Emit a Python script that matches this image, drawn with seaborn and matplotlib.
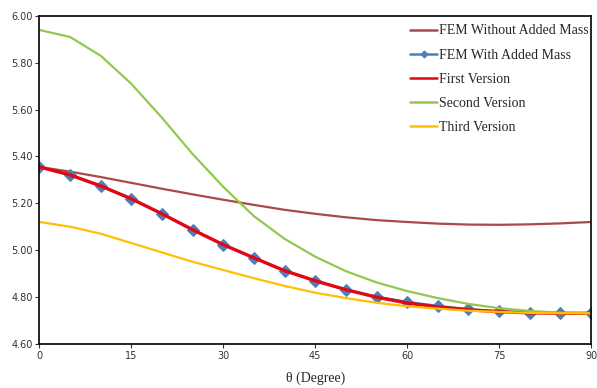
#!/usr/bin/env python3
"""Natural frequency vs theta for FEM and the three analytic versions -> out.png"""

import matplotlib.pyplot as plt
import pandas as pd
import seaborn as sns

theta = [0, 5, 10, 15, 20, 25, 30, 35, 40, 45, 50, 55, 60, 65, 70, 75, 80, 85, 90]

fem_no_mass = [5.355, 5.335, 5.312, 5.287, 5.262, 5.238, 5.215, 5.193, 5.172, 5.155,
               5.140, 5.128, 5.120, 5.113, 5.109, 5.108, 5.110, 5.114, 5.120]
fem_mass = [5.355, 5.321, 5.274, 5.219, 5.155, 5.087, 5.023, 4.967, 4.912, 4.869,
            4.831, 4.801, 4.779, 4.762, 4.748, 4.738, 4.733, 4.731, 4.730]
first_ver = [5.355, 5.321, 5.274, 5.219, 5.155, 5.087, 5.023, 4.967, 4.912, 4.869,
             4.831, 4.799, 4.774, 4.757, 4.745, 4.737, 4.732, 4.730, 4.730]
second_ver = [5.94, 5.91, 5.83, 5.71, 5.565, 5.41, 5.27, 5.145, 5.048, 4.972,
              4.91, 4.862, 4.825, 4.795, 4.77, 4.752, 4.740, 4.733, 4.730]
third_ver = [5.12, 5.10, 5.07, 5.03, 4.99, 4.95, 4.915, 4.88, 4.847, 4.818,
             4.795, 4.775, 4.760, 4.750, 4.741, 4.736, 4.732, 4.730, 4.730]

labels = ["FEM Without Added Mass", "FEM With Added Mass", "First Version",
          "Second Version", "Third Version"]
colors = ["#A84A47", "#4F7FBA", "#E30613", "#92C850", "#FFC000"]

sns.set_theme(style="white")
plt.rcParams["font.family"] = ["Liberation Serif", "DejaVu Serif"]

df = pd.DataFrame({
    "theta": theta * 5,
    "value": fem_no_mass + fem_mass + first_ver + second_ver + third_ver,
    "series": [lab for lab in labels for _ in theta],
})

fig = plt.figure(figsize=(5.97, 3.88), dpi=100)
ax = fig.add_axes([0.066, 0.114, 0.924, 0.845])

for lab, col in zip(labels, colors):
    sub = df[df["series"] == lab]
    kw = dict(color=col, linewidth=1.6, label=lab, ax=ax)
    if lab == "FEM With Added Mass":
        kw.update(marker="D", markersize=6, markeredgecolor=col)
    if lab == "First Version":
        kw.update(linewidth=2.4)
    sns.lineplot(data=sub, x="theta", y="value", **kw)

ax.set_xlim(0, 90)
ax.set_ylim(4.60, 6.00)
ax.set_xticks(range(0, 91, 15))
ax.set_yticks([4.6, 4.8, 5.0, 5.2, 5.4, 5.6, 5.8, 6.0])
ax.set_yticklabels([f"{v:.2f}" for v in ax.get_yticks()])
ax.tick_params(axis="both", labelsize=7, length=3, width=0.8, direction="out",
               bottom=True, left=True, colors="#333333", pad=2)
for t in ax.get_xticklabels() + ax.get_yticklabels():
    t.set_family("DejaVu Sans")
for s in ax.spines.values():
    s.set_color("black")
    s.set_linewidth(1.2)
ax.set_xlabel("θ (Degree)", fontsize=10, labelpad=8)
ax.set_ylabel("")

leg = ax.legend(loc="upper right", bbox_to_anchor=(1.018, 1.012), frameon=False,
                fontsize=10, handlelength=1.95, handletextpad=0.1, labelspacing=0.8,
                markerscale=0.6)
for h in leg.get_lines():
    h.set_linewidth(1.8)

fig.savefig("out.png", dpi=100)
